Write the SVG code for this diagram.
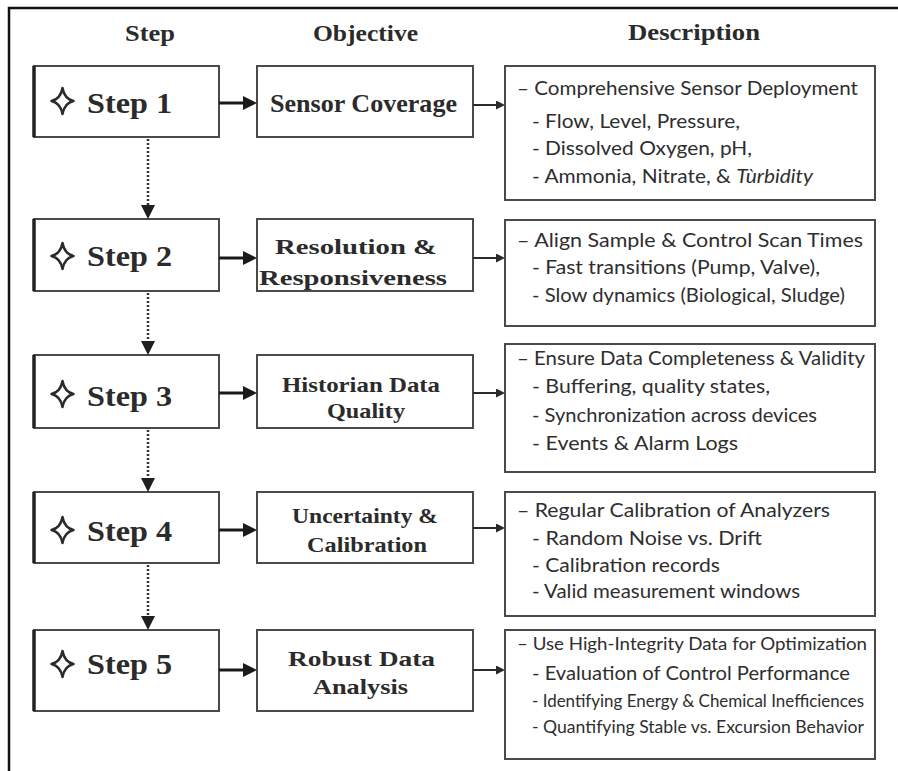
<svg xmlns="http://www.w3.org/2000/svg" xmlns:xlink="http://www.w3.org/1999/xlink" width="898" height="771" viewBox="0 0 898 771">
  <style>
    .frame { stroke: #111; stroke-width: 2.5; fill: none; }
    .box { fill: #fff; stroke: #4a4a4a; stroke-width: 2; }
    .stepbar { stroke: #222; stroke-width: 3.5; }
    .hdr { font-family: "Liberation Serif", "Times New Roman", serif; font-weight: bold; font-size: 23px; fill: #2b2b2b; }
    .step { font-family: "Liberation Serif", "Times New Roman", serif; font-weight: bold; font-size: 30px; fill: #2b2b2b; }
    .obj { font-family: "Liberation Serif", "Times New Roman", serif; font-weight: bold; font-size: 21px; fill: #2b2b2b; }
    .obj1 { font-size: 26px; }
    .desc { font-family: Lato, "Open Sans", "Liberation Sans", sans-serif; font-size: 19px; fill: #2e2e2e; }
    .tight { font-size: 17px; }
    .star { fill: none; stroke: #2b2b2b; stroke-width: 2.5; stroke-linejoin: round; }
    .flow { stroke: #1a1a1a; stroke-width: 3; fill: none; }
    .feed { stroke: #2a2a2a; stroke-width: 2; fill: none; }
    .next { stroke: #333; stroke-width: 2.5; stroke-dasharray: 2 2; fill: none; }
  </style>
  <defs>
    <marker id="headFlow" markerUnits="userSpaceOnUse" markerWidth="14" markerHeight="14" refX="1" refY="7" orient="auto">
      <path d="M0,0 L14,7 L0,14 Z" fill="#1a1a1a"/>
    </marker>
    <marker id="headFeed" markerUnits="userSpaceOnUse" markerWidth="9" markerHeight="9" refX="1" refY="4.5" orient="auto">
      <path d="M0,0 L9,4.5 L0,9 Z" fill="#2a2a2a"/>
    </marker>
    <marker id="headNext" markerUnits="userSpaceOnUse" markerWidth="14" markerHeight="14" refX="1" refY="7" orient="auto">
      <path d="M0,0 L14,7 L0,14 Z" fill="#1f1f1f"/>
    </marker>
    <path id="star" class="star" d="M0,-13 Q2,-2 11,0 Q2,2 0,13 Q-2,2 -11,0 Q-2,-2 0,-13 Z"/>
  </defs>

  <rect width="898" height="771" fill="#fff"/>
  <!-- outer frame: top and left edges only -->
  <path class="frame" d="M9,771 L9,8 L898,8"/>

  <!-- column headings -->
  <g id="headings">
    <text class="hdr" x="125" y="41" textLength="50" lengthAdjust="spacingAndGlyphs">Step</text>
    <text class="hdr" x="313" y="41" textLength="105" lengthAdjust="spacingAndGlyphs">Objective</text>
    <text class="hdr" x="628" y="40" textLength="132" lengthAdjust="spacingAndGlyphs">Description</text>
  </g>

  <!-- step boxes -->
  <g id="step1">
    <rect class="box" x="34" y="66" width="185" height="71"/>
    <line class="stepbar" x1="34" y1="66" x2="34" y2="137"/>
    <use href="#star" x="62.5" y="101"/>
    <text class="step" x="87" y="113" textLength="85" lengthAdjust="spacingAndGlyphs">Step 1</text>
  </g>
  <g id="step2">
    <rect class="box" x="34" y="219" width="185" height="72"/>
    <line class="stepbar" x1="34" y1="219" x2="34" y2="291"/>
    <use href="#star" x="62.5" y="256"/>
    <text class="step" x="87" y="266" textLength="85" lengthAdjust="spacingAndGlyphs">Step 2</text>
  </g>
  <g id="step3">
    <rect class="box" x="34" y="355" width="185" height="73"/>
    <line class="stepbar" x1="34" y1="355" x2="34" y2="428"/>
    <use href="#star" x="62.5" y="394"/>
    <text class="step" x="87" y="406" textLength="85" lengthAdjust="spacingAndGlyphs">Step 3</text>
  </g>
  <g id="step4">
    <rect class="box" x="34" y="492" width="185" height="71"/>
    <line class="stepbar" x1="34" y1="492" x2="34" y2="563"/>
    <use href="#star" x="62.5" y="530"/>
    <text class="step" x="87" y="541" textLength="85" lengthAdjust="spacingAndGlyphs">Step 4</text>
  </g>
  <g id="step5">
    <rect class="box" x="34" y="630" width="185" height="81"/>
    <line class="stepbar" x1="34" y1="630" x2="34" y2="711"/>
    <use href="#star" x="62.5" y="664"/>
    <text class="step" x="87" y="674" textLength="85" lengthAdjust="spacingAndGlyphs">Step 5</text>
  </g>

  <!-- objective boxes -->
  <g id="objective1">
    <rect class="box" x="257" y="66" width="216" height="71"/>
    <text class="obj obj1" x="270" y="112" textLength="187" lengthAdjust="spacingAndGlyphs">Sensor Coverage</text>
  </g>
  <g id="objective2">
    <rect class="box" x="257" y="219" width="216" height="72"/>
    <text class="obj" x="275" y="254" textLength="162" lengthAdjust="spacingAndGlyphs">Resolution &amp;</text>
    <text class="obj" x="259" y="285" textLength="188" lengthAdjust="spacingAndGlyphs">Responsiveness</text>
  </g>
  <g id="objective3">
    <rect class="box" x="257" y="355" width="216" height="73"/>
    <text class="obj" x="282" y="392" textLength="158" lengthAdjust="spacingAndGlyphs">Historian Data</text>
    <text class="obj" x="327" y="418" textLength="78" lengthAdjust="spacingAndGlyphs">Quality</text>
  </g>
  <g id="objective4">
    <rect class="box" x="257" y="492" width="216" height="71"/>
    <text class="obj" x="292" y="523" textLength="146" lengthAdjust="spacingAndGlyphs">Uncertainty &amp;</text>
    <text class="obj" x="307" y="552" textLength="120" lengthAdjust="spacingAndGlyphs">Calibration</text>
  </g>
  <g id="objective5">
    <rect class="box" x="257" y="630" width="216" height="81"/>
    <text class="obj" x="288" y="666" textLength="147" lengthAdjust="spacingAndGlyphs">Robust Data</text>
    <text class="obj" x="313" y="694" textLength="95" lengthAdjust="spacingAndGlyphs">Analysis</text>
  </g>

  <!-- description boxes -->
  <g id="description1">
    <rect class="box" x="505" y="66" width="370" height="134"/>
    <text class="desc" x="517" y="95" textLength="341" lengthAdjust="spacingAndGlyphs">– Comprehensive Sensor Deployment</text>
    <text class="desc" x="532" y="128" textLength="208" lengthAdjust="spacingAndGlyphs">- Flow, Level, Pressure,</text>
    <text class="desc" x="532" y="155" textLength="220" lengthAdjust="spacingAndGlyphs">- Dissolved Oxygen, pH,</text>
    <text class="desc" x="532" y="183" textLength="281" lengthAdjust="spacingAndGlyphs">- Ammonia, Nitrate, &amp; <tspan font-style="italic">Tùrbidity</tspan></text>
  </g>
  <g id="description2">
    <rect class="box" x="505" y="220" width="370" height="106"/>
    <text class="desc" x="517" y="247" textLength="346" lengthAdjust="spacingAndGlyphs">– Align Sample &amp; Control Scan Times</text>
    <text class="desc" x="532" y="274" textLength="288" lengthAdjust="spacingAndGlyphs">- Fast transitions (Pump, Valve),</text>
    <text class="desc" x="532" y="302" textLength="313" lengthAdjust="spacingAndGlyphs">- Slow dynamics (Biological, Sludge)</text>
  </g>
  <g id="description3">
    <rect class="box" x="505" y="344" width="370" height="128"/>
    <text class="desc" x="517" y="365" textLength="348" lengthAdjust="spacingAndGlyphs">– Ensure Data Completeness &amp; Validity</text>
    <text class="desc" x="532" y="393" textLength="238" lengthAdjust="spacingAndGlyphs">- Buffering, quality states,</text>
    <text class="desc" x="532" y="422" textLength="285" lengthAdjust="spacingAndGlyphs">- Synchronization across devices</text>
    <text class="desc" x="532" y="450" textLength="206" lengthAdjust="spacingAndGlyphs">- Events &amp; Alarm Logs</text>
  </g>
  <g id="description4">
    <rect class="box" x="505" y="492" width="370" height="124"/>
    <text class="desc" x="517" y="517" textLength="313" lengthAdjust="spacingAndGlyphs">– Regular Calibration of Analyzers</text>
    <text class="desc" x="532" y="545" textLength="230" lengthAdjust="spacingAndGlyphs">- Random Noise vs. Drift</text>
    <text class="desc" x="532" y="572" textLength="188" lengthAdjust="spacingAndGlyphs">- Calibration records</text>
    <text class="desc" x="532" y="598" textLength="268" lengthAdjust="spacingAndGlyphs">- Valid measurement windows</text>
  </g>
  <g id="description5">
    <rect class="box" x="505" y="630" width="370" height="129"/>
    <text class="desc tight" x="517" y="650" textLength="350" lengthAdjust="spacingAndGlyphs">– Use High-Integrity Data for Optimization</text>
    <text class="desc" x="532" y="680" textLength="318" lengthAdjust="spacingAndGlyphs">- Evaluation of Control Performance</text>
    <text class="desc tight" x="532" y="707" textLength="332" lengthAdjust="spacingAndGlyphs">- Identifying Energy &amp; Chemical Inefficiences</text>
    <text class="desc tight" x="532" y="733" textLength="332" lengthAdjust="spacingAndGlyphs">- Quantifying Stable vs. Excursion Behavior</text>
  </g>

  <!-- connectors -->
  <g id="connectors">
    <!-- step -> objective -->
    <line class="flow" x1="219" y1="103" x2="244" y2="103" marker-end="url(#headFlow)"/>
    <line class="flow" x1="219" y1="258" x2="244" y2="258" marker-end="url(#headFlow)"/>
    <line class="flow" x1="219" y1="393" x2="244" y2="393" marker-end="url(#headFlow)"/>
    <line class="flow" x1="219" y1="530" x2="244" y2="530" marker-end="url(#headFlow)"/>
    <line class="flow" x1="219" y1="670" x2="244" y2="670" marker-end="url(#headFlow)"/>
    <!-- objective -> description -->
    <line class="feed" x1="473" y1="105" x2="497" y2="105" marker-end="url(#headFeed)"/>
    <line class="feed" x1="473" y1="258" x2="497" y2="258" marker-end="url(#headFeed)"/>
    <line class="feed" x1="473" y1="393" x2="497" y2="393" marker-end="url(#headFeed)"/>
    <line class="feed" x1="473" y1="528" x2="497" y2="528" marker-end="url(#headFeed)"/>
    <line class="feed" x1="473" y1="670" x2="497" y2="670" marker-end="url(#headFeed)"/>
    <!-- step -> next step -->
    <line class="next" x1="148" y1="139" x2="148" y2="206" marker-end="url(#headNext)"/>
    <line class="next" x1="148" y1="293" x2="148" y2="342" marker-end="url(#headNext)"/>
    <line class="next" x1="148" y1="430" x2="148" y2="479" marker-end="url(#headNext)"/>
    <line class="next" x1="148" y1="565" x2="148" y2="617" marker-end="url(#headNext)"/>
  </g>
</svg>
